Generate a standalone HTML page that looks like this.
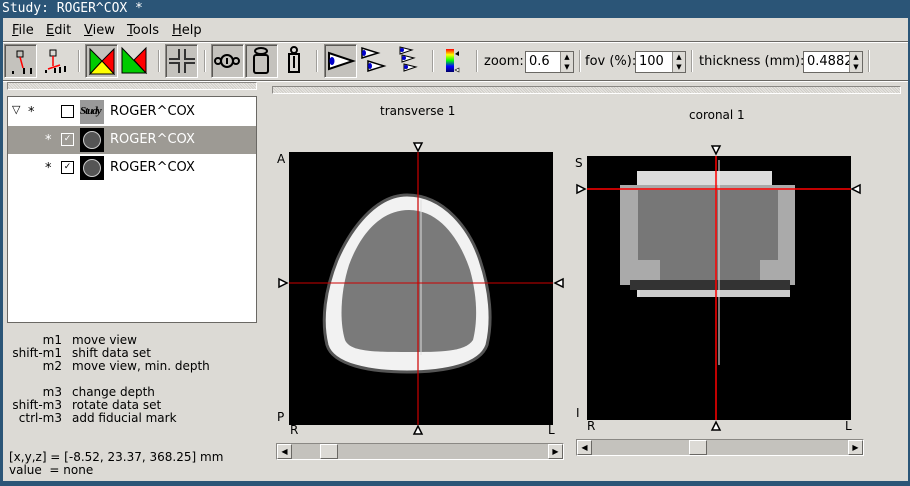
<!DOCTYPE html>
<html><head><meta charset="utf-8"><style>
*{margin:0;padding:0;box-sizing:border-box}
body{width:910px;height:486px;overflow:hidden;background:#2b5577;font-family:"DejaVu Sans","Liberation Sans",sans-serif;font-size:12px;color:#000;position:relative}
.a{position:absolute}
.win{left:3px;top:18px;width:905px;height:463px;background:#dcdad5}
.btn{position:absolute;top:44px;width:33px;height:34px}
.btn.on{background:#c4c2bd;border:1px solid #fff;border-top-color:#8a8884;border-left-color:#8a8884;box-shadow:inset 1px 1px 0 #5a5854}
.sep{position:absolute;top:50px;width:2px;height:22px;border-left:1px solid #a09e9a;border-right:1px solid #fff}
.grip{position:absolute;height:8px;border:1px solid #8a8884;border-right-color:#fff;border-bottom-color:#fff;background:repeating-linear-gradient(45deg,#e8e6e2 0 1px,#cfcdc8 1px 2px)}
.spin{position:absolute;top:51px;height:22px;background:#fff;border:1px solid #6a6864;font-size:13px;padding:2px 3px}
.spin b{position:absolute;right:0;top:0;width:13px;height:20px;background:#dcdad5;border-left:1px solid #8a8884;font-weight:normal;font-size:7px;line-height:10px;text-align:center}
.lbl{position:absolute;top:54px;font-size:13px}
.menu span{position:absolute;top:23px;font-size:13px}
.tree{left:7px;top:96px;width:250px;height:227px;background:#fff;border:1px solid #6a6864}
.sb{position:absolute;height:17px;background:#c4c2bd;border:1px solid #8a8884;border-right-color:#fff;border-bottom-color:#fff}
.sb i{position:absolute;top:0;width:15px;height:15px;background:#dcdad5;border:1px solid #fff;border-right-color:#6a6864;border-bottom-color:#6a6864;font-style:normal;font-size:8px;line-height:13px;text-align:center}
.hl{position:absolute;font-size:12px;line-height:13px;white-space:nowrap}
.hl .k{position:absolute;right:848px;text-align:right}
</style></head><body>
<div class="a" style="left:0;top:0;width:910px;height:18px;color:#fff;font-family:'DejaVu Sans Mono',monospace;font-size:13px;padding:1px 2px">Study: ROGER^COX *</div>
<div class="a win"></div>
<div class="a menu" style="left:0;top:0">
<span style="left:12px"><u>F</u>ile</span>
<span style="left:46px"><u>E</u>dit</span>
<span style="left:84px"><u>V</u>iew</span>
<span style="left:127px"><u>T</u>ools</span>
<span style="left:172px"><u>H</u>elp</span>
</div>
<div class="a" style="left:3px;top:41px;width:905px;height:2px;border-top:1px solid #6a6864;border-bottom:1px solid #fff"></div>
<div class="a" style="left:3px;top:80px;width:905px;height:2px;border-top:1px solid #6a6864;border-bottom:1px solid #fff"></div>

<div class="btn on" style="left:4px"><svg width="31" height="32"><rect x="12" y="6" width="6" height="6" fill="none" stroke="#000"/><line x1="15" y1="12" x2="18" y2="23" stroke="red" stroke-width="1.5"/><path d="M8 26v3M19 23v6M26 23v6" stroke="#000" stroke-width="2"/></svg></div>
<div class="btn" style="left:38px"><svg width="31" height="32"><rect x="12" y="6" width="6" height="6" fill="none" stroke="#000"/><path d="M15 12v10M10 25l12-4" stroke="red" stroke-width="1.5"/><path d="M8 26v3M17 24v5M22 23v6M27 22v6" stroke="#000" stroke-width="2"/></svg></div>
<div class="sep" style="left:78px"></div>
<div class="btn on" style="left:85px"><svg width="31" height="32"><polygon points="4,4 4,29 16,16" fill="#0c0" stroke="#000"/><polygon points="28,4 28,29 16,16" fill="red" stroke="#000"/><polygon points="4,29 28,29 16,16" fill="#ff0" stroke="#000"/></svg></div>
<div class="btn" style="left:118px"><svg width="31" height="32"><polygon points="4,4 4,29 28,29" fill="#0c0" stroke="#000"/><polygon points="28,4 28,29 16,16" fill="red" stroke="#000"/></svg></div>
<div class="sep" style="left:158px"></div>
<div class="btn on" style="left:165px"><svg width="31" height="32"><path d="M13 4v10H3M19 4v10h10M13 28V18H3M19 28V18h10" fill="none" stroke="#333" stroke-width="2"/></svg></div>
<div class="sep" style="left:204px"></div>
<div class="btn on" style="left:211px"><svg width="31" height="32"><circle cx="15" cy="16" r="6" fill="none" stroke="#000" stroke-width="2"/><circle cx="6" cy="16" r="3" fill="none" stroke="#000" stroke-width="2"/><circle cx="24" cy="16" r="3" fill="none" stroke="#000" stroke-width="2"/><rect x="14" y="13" width="2" height="6"/></svg></div>
<div class="btn on" style="left:245px"><svg width="31" height="32"><ellipse cx="15" cy="6" rx="6" ry="3" fill="none" stroke="#000" stroke-width="2"/><rect x="8" y="10" width="14" height="18" rx="2" fill="none" stroke="#000" stroke-width="2"/></svg></div>
<div class="btn" style="left:279px"><svg width="31" height="32"><circle cx="15" cy="6" r="3" fill="none" stroke="#000" stroke-width="2"/><rect x="10" y="10" width="10" height="18" fill="none" stroke="#000" stroke-width="2"/><rect x="14" y="12" width="2" height="12"/></svg></div>
<div class="sep" style="left:316px"></div>
<div class="btn on" style="left:324px"><svg width="31" height="32"><polygon points="4,8 4,24 28,16" fill="#fff" stroke="#000" stroke-width="2"/><ellipse cx="7" cy="16" rx="2.5" ry="4" fill="#00c"/></svg></div>
<div class="btn" style="left:358px"><svg width="31" height="32"><polygon points="4,4 4,14 20,9" fill="#fff" stroke="#000" stroke-width="1.5"/><polygon points="10,17 10,27 26,22" fill="#fff" stroke="#000" stroke-width="1.5"/><ellipse cx="6" cy="9" rx="2" ry="3" fill="#00c"/><ellipse cx="12" cy="22" rx="2" ry="3" fill="#00c"/></svg></div>
<div class="btn" style="left:392px"><svg width="31" height="32"><polygon points="8,3 8,10 20,6" fill="#fff" stroke="#000"/><polygon points="10,11 10,18 22,14" fill="#fff" stroke="#000"/><polygon points="12,20 12,27 24,23" fill="#fff" stroke="#000"/><circle cx="10" cy="6" r="2" fill="#00c"/><circle cx="12" cy="14" r="2" fill="#00c"/><circle cx="14" cy="23" r="2" fill="#00c"/></svg></div>
<div class="sep" style="left:432px"></div>
<div class="btn" style="left:440px"><svg width="31" height="32"><defs><linearGradient id="rb" x1="0" y1="0" x2="0" y2="1"><stop offset="0" stop-color="red"/><stop offset=".25" stop-color="#ff0"/><stop offset=".5" stop-color="#0f0"/><stop offset=".75" stop-color="#00f"/><stop offset="1" stop-color="#006"/></linearGradient></defs><rect x="6" y="5" width="8" height="23" fill="url(#rb)"/><polygon points="19,7 19,12 15,10" fill="#000"/><polygon points="19,24 19,28 15,26" fill="#fff" stroke="#000" stroke-width=".6"/></svg></div>
<div class="sep" style="left:476px"></div>
<div class="lbl" style="left:484px">zoom:</div>
<div class="spin" style="left:525px;width:49px">0.6<b>▲<br>▼</b></div>
<div class="sep" style="left:579px"></div>
<div class="lbl" style="left:585px">fov (%):</div>
<div class="spin" style="left:635px;width:51px">100<b>▲<br>▼</b></div>
<div class="sep" style="left:691px"></div>
<div class="lbl" style="left:699px">thickness (mm):</div>
<div class="spin" style="left:803px;width:60px;overflow:hidden">0.4882<b>▲<br>▼</b></div>
<div class="sep" style="left:868px"></div>

<div class="grip" style="left:7px;top:82px;width:250px"></div>
<div class="grip" style="left:272px;top:86px;width:629px"></div>

<div class="a tree">
<div class="a" style="left:0;top:29px;width:248px;height:28px;background:#9d9a94"></div>
<div class="a" style="left:4px;top:6px;font-size:11px">▽</div>
<div class="a" style="left:20px;top:8px;font-size:13px">*</div>
<div class="a" style="left:53px;top:8px;width:13px;height:13px;border:1px solid #000;background:#fff"></div>
<div class="a" style="left:72px;top:3px;width:24px;height:24px;background:#999;font:bold italic 11px 'Liberation Serif',serif;padding-top:5px;letter-spacing:-1px">Study</div>
<div class="a" style="left:102px;top:7px;font-size:13px">ROGER^COX</div>
<div class="a" style="left:37px;top:36px;font-size:13px;color:#fff">*</div>
<div class="a" style="left:53px;top:36px;width:13px;height:13px;border:1px solid #fff;color:#fff;font-size:9px;line-height:11px;text-align:center">✓</div>
<div class="a" style="left:72px;top:31px;width:24px;height:24px;background:#000"><div style="margin:3px;width:18px;height:18px;border-radius:50%;background:#555;border:1px solid #ccc"></div></div>
<div class="a" style="left:102px;top:35px;font-size:13px;color:#fff">ROGER^COX</div>
<div class="a" style="left:37px;top:64px;font-size:13px">*</div>
<div class="a" style="left:53px;top:64px;width:13px;height:13px;border:1px solid #000;font-size:9px;line-height:11px;text-align:center">✓</div>
<div class="a" style="left:72px;top:59px;width:24px;height:24px;background:#000"><div style="margin:3px;width:18px;height:18px;border-radius:50%;background:#555;border:1px solid #ccc"></div></div>
<div class="a" style="left:102px;top:63px;font-size:13px">ROGER^COX</div>
</div>

<div class="hl" style="left:0;top:334px;width:250px;height:100px">
<div class="a" style="left:0;top:0;width:62px;text-align:right">m1<br>shift-m1<br>m2<br><br>m3<br>shift-m3<br>ctrl-m3</div>
<div class="a" style="left:72px;top:0">move view<br>shift data set<br>move view, min. depth<br><br>change depth<br>rotate data set<br>add fiducial mark</div>
</div>
<div class="a" style="left:9px;top:451px;font-size:12px;line-height:13px;white-space:nowrap">[x,y,z] = [-8.52, 23.37, 368.25] mm<br>value&nbsp; = none</div>

<div class="a" style="left:380px;top:104px;font-size:12px">transverse 1</div>
<div class="a" style="left:689px;top:108px;font-size:12px">coronal 1</div>

<svg class="a" style="left:275px;top:140px" width="290" height="300">
<text x="2" y="23" font-size="12">A</text><text x="2" y="281" font-size="12">P</text><text x="15" y="294" font-size="12">R</text><text x="273" y="294" font-size="12">L</text>
<rect x="14" y="12" width="264" height="273" fill="#000"/>
<path d="M132 55 C 170 55 195 90 205 120 C 215 150 218 180 212 205 C 205 225 170 232 132 232 C 95 232 58 225 52 205 C 46 180 50 150 62 120 C 75 90 100 55 132 55Z" fill="#f2f2f2" stroke="#555" stroke-width="3"/>
<path d="M134 70 C 165 70 185 100 195 130 C 202 155 203 180 198 200 C 190 212 165 212 134 212 C 100 212 75 212 70 200 C 64 180 66 150 74 125 C 85 95 105 70 134 70Z" fill="#7a7a7a"/>
<line x1="146" y1="60" x2="146" y2="215" stroke="#ddd" stroke-width="1"/>
<line x1="143" y1="12" x2="143" y2="285" stroke="#c00" stroke-width="1.2"/>
<line x1="14" y1="143" x2="278" y2="143" stroke="#c00" stroke-width="1"/>
<polygon points="139,3 147,3 143,11" fill="#fff" stroke="#000" stroke-width="1.5"/>
<polygon points="139,294 147,294 143,286" fill="#fff" stroke="#000" stroke-width="1.5"/>
<polygon points="4,139 4,147 12,143" fill="#fff" stroke="#000" stroke-width="1.5"/>
<polygon points="288,139 288,147 280,143" fill="#fff" stroke="#000" stroke-width="1.5"/>
</svg>

<svg class="a" style="left:570px;top:140px" width="300" height="300">
<text x="5" y="27" font-size="12">S</text><text x="6" y="277" font-size="12">I</text><text x="17" y="290" font-size="12">R</text><text x="275" y="290" font-size="12">L</text>
<rect x="17" y="16" width="264" height="264" fill="#000"/>
<rect x="67" y="31" width="135" height="126" fill="#ddd"/>
<rect x="50" y="45" width="175" height="100" fill="#aaa"/>
<rect x="68" y="50" width="140" height="70" fill="#777"/>
<rect x="90" y="116" width="100" height="24" fill="#777"/>
<rect x="60" y="140" width="160" height="10" fill="#333"/>
<rect x="70" y="150" width="150" height="7" fill="#ccc"/>
<line x1="149" y1="20" x2="149" y2="225" stroke="#eee" stroke-width="1"/>
<line x1="146" y1="16" x2="146" y2="280" stroke="red" stroke-width="1.5"/>
<line x1="17" y1="49" x2="281" y2="49" stroke="red" stroke-width="1.5"/>
<polygon points="142,6 150,6 146,14" fill="#fff" stroke="#000" stroke-width="1.5"/>
<polygon points="142,290 150,290 146,282" fill="#fff" stroke="#000" stroke-width="1.5"/>
<polygon points="7,45 7,53 15,49" fill="#fff" stroke="#000" stroke-width="1.5"/>
<polygon points="290,45 290,53 282,49" fill="#fff" stroke="#000" stroke-width="1.5"/>
</svg>

<div class="sb" style="left:276px;top:443px;width:288px"><i style="left:0">◀</i><i style="left:43px;width:18px"></i><i style="right:0">▶</i></div>
<div class="sb" style="left:576px;top:439px;width:288px"><i style="left:0">◀</i><i style="left:112px;width:18px"></i><i style="right:0">▶</i></div>
</body></html>
